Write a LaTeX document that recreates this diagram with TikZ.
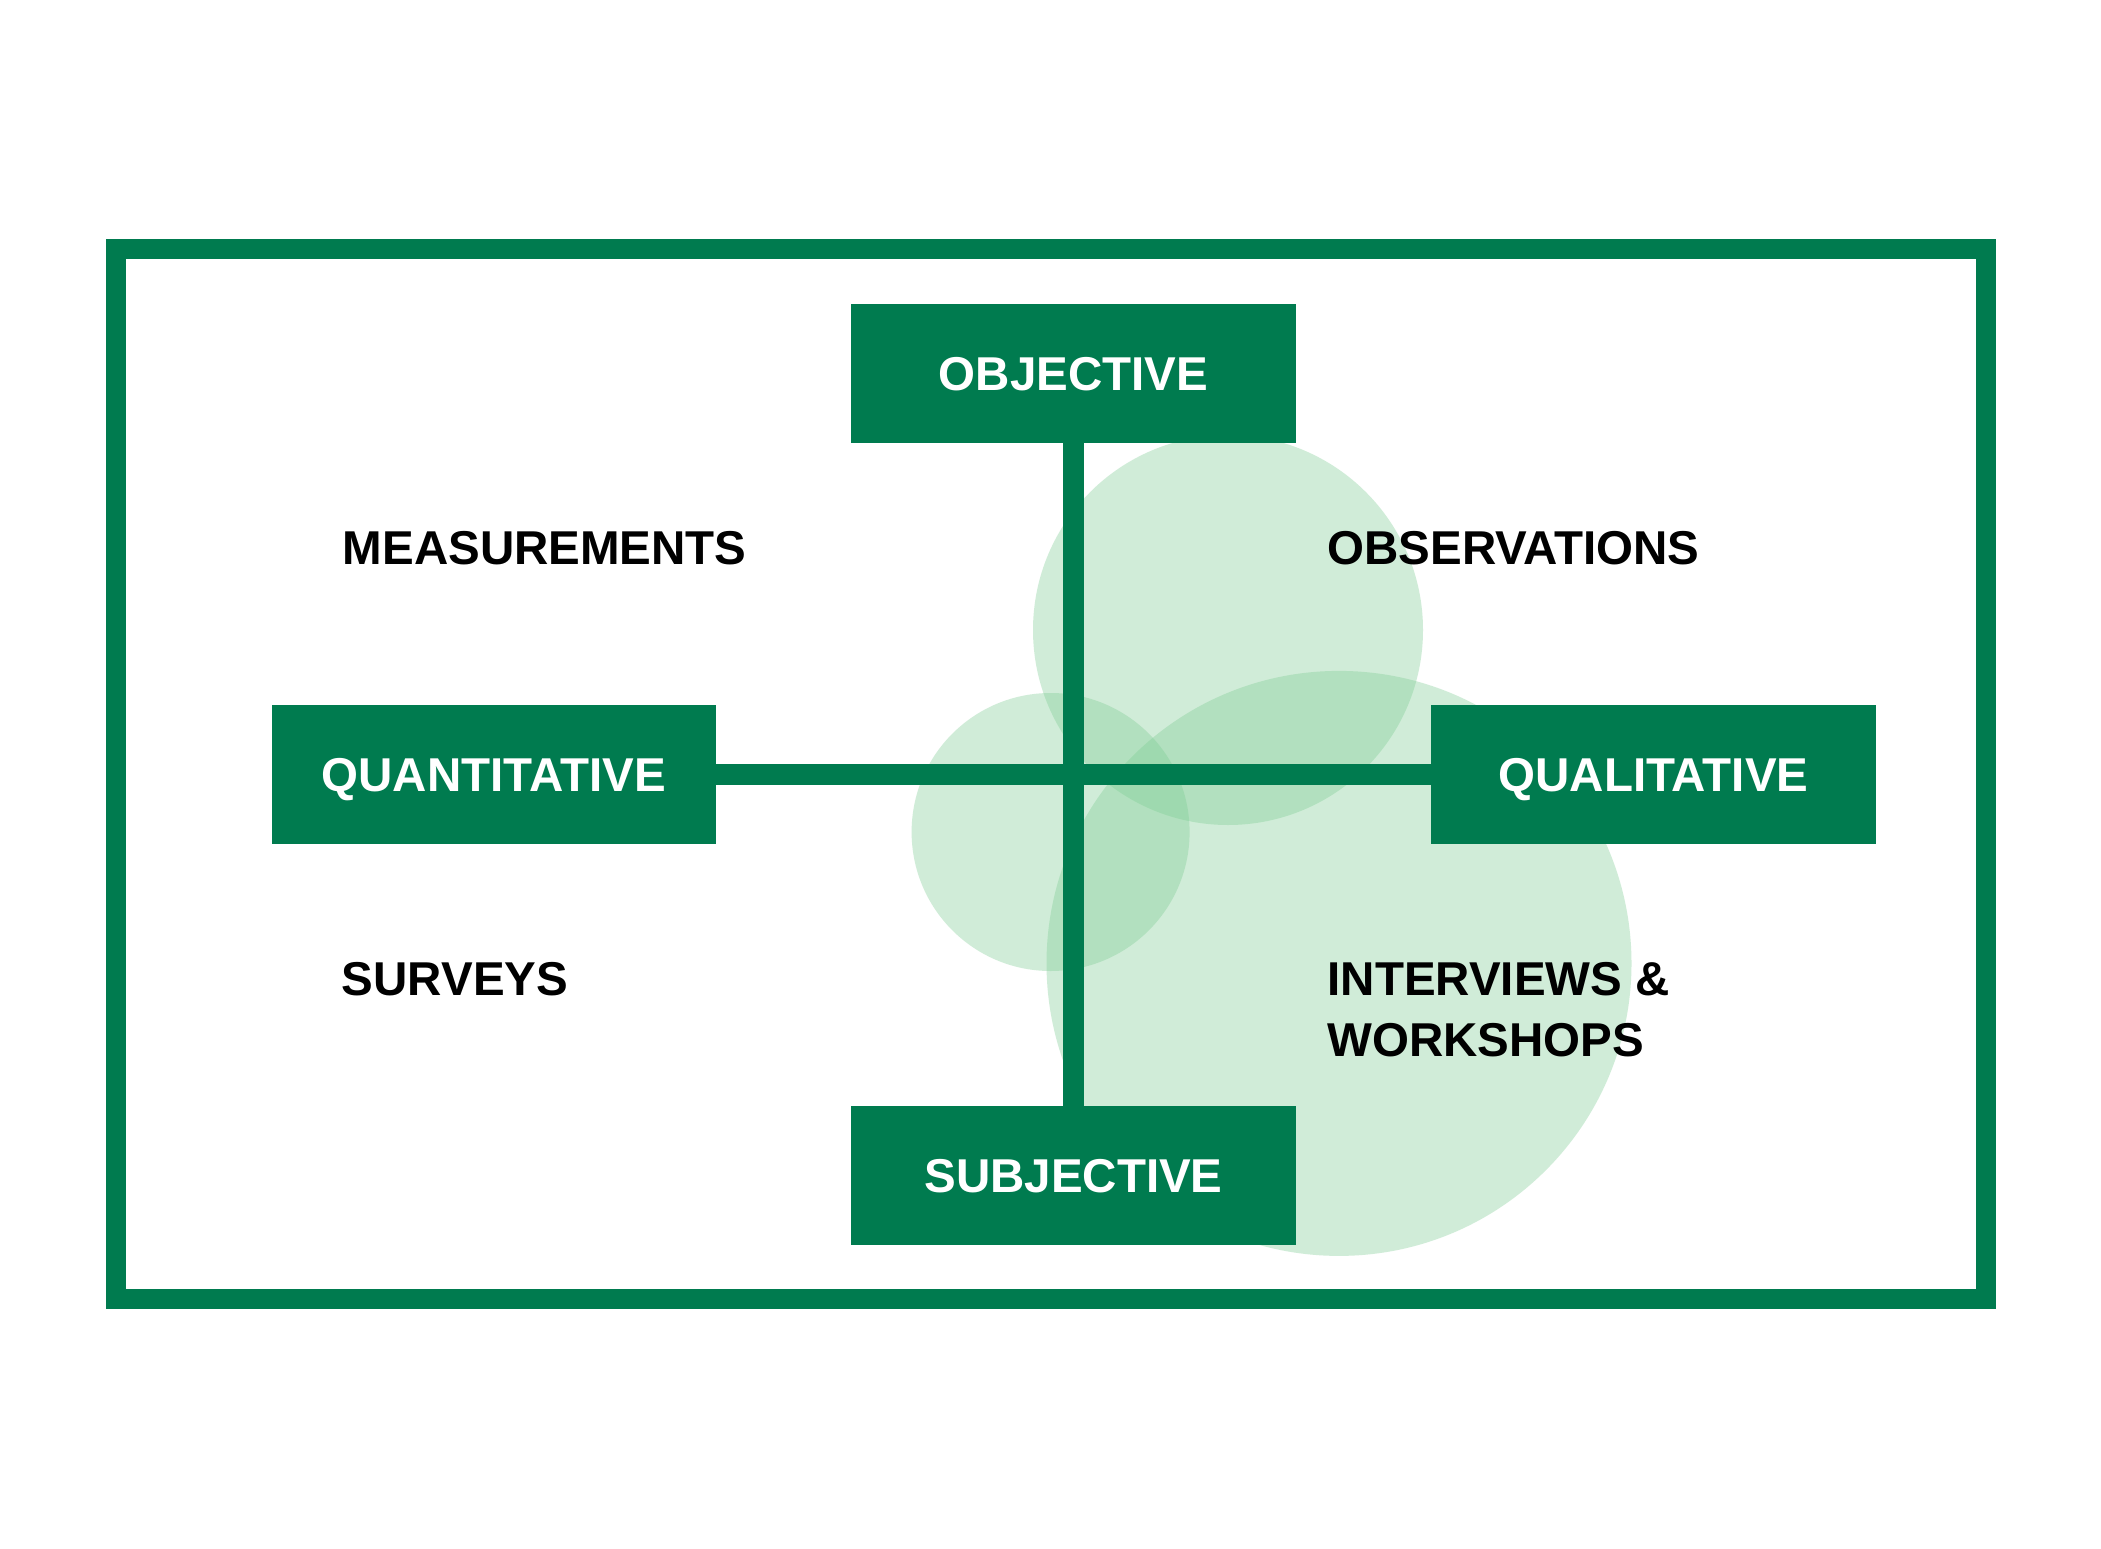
\documentclass[tikz,border=0pt]{standalone}
\usepackage{fontspec}
\setmainfont{Liberation Sans}
\definecolor{dkgreen}{RGB}{0,123,79}
\definecolor{ltgreen}{RGB}{125,205,147}
\begin{document}
\begin{tikzpicture}[x=1pt,y=-1pt,
  box/.style={rectangle,fill=dkgreen,draw=none,inner sep=0pt,minimum width=444.4pt,minimum height=138.7pt,
    text=white,font=\fontsize{47.5}{58}\selectfont\bfseries,text height=34.7pt,text depth=0pt},
  lbl/.style={inner sep=0pt,anchor=base west,text=black,font=\fontsize{47.5}{61}\selectfont\bfseries,align=left},
  blob/.style={fill=ltgreen,fill opacity=0.36,draw=none},
  link/.style={draw=dkgreen,line width=21pt}]
\useasboundingbox (0,0) rectangle (2101,1549);
\fill[white] (0,0) rectangle (2101,1549);
% translucent circles
\fill[blob] (1228,630) circle[radius=195];
\fill[blob] (1339,963.4) circle[radius=292.5];
\fill[blob] (1050.6,832) circle[radius=139];
% frame
\draw[dkgreen,line width=20pt] (116,249) rectangle (1985.7,1299);
% boxes
\node[box] (obj) at (1073.5,373.4) {OBJECTIVE};
\node[box] (subj) at (1073.5,1175.5) {SUBJECTIVE};
\node[box] (quant) at (493.7,774.3) {QUANTITATIVE};
\node[box] (qual) at (1653.5,774.3) {QUALITATIVE};
% axes
\draw[link] (obj.south) -- (subj.north);
\draw[link] (quant.east) -- (qual.west);
% labels
\node[lbl] (meas) at (342.7,564) {MEASUREMENTS};
\node[lbl] (obs) at (1327.3,564) {OBSERVATIONS};
\node[lbl] (surv) at (341.7,995.7) {SURVEYS};
\node[lbl] (intw) at (1327.3,1056) {INTERVIEWS \&\\WORKSHOPS};
\end{tikzpicture}
\end{document}
